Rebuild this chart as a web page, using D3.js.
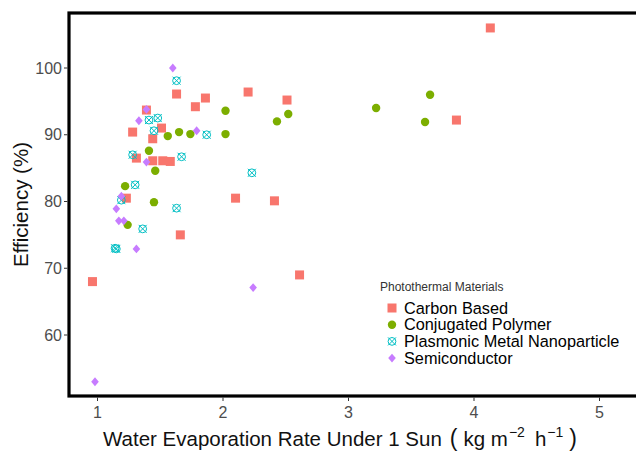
<!DOCTYPE html>
<html>
<head>
<meta charset="utf-8">
<script src="https://cdn.jsdelivr.net/npm/d3@7"></script>
<style>
    body { margin: 0; background: #fff; }
    svg { display: block; font-family: "Liberation Sans", Arial, sans-serif; }
    .tick-label { fill: #4d4d4d; font-size: 16px; }
    .axis-title { fill: #111; font-size: 20.5px; }
</style>
</head>
<body>
<svg id="chart" width="636" height="452"></svg>
<script>
// Series: [evaporation rate, efficiency]
const carbonBased = [
    [0.96, 68.0], [4.13, 106.0], [3.86, 92.2], [1.63, 96.1], [2.20, 96.4],
    [2.51, 95.2], [1.86, 95.5], [1.78, 94.2], [1.39, 93.7], [1.28, 90.4],
    [1.51, 91.0], [1.44, 89.4], [1.31, 86.5], [1.44, 86.1], [1.52, 86.1],
    [1.58, 86.0], [1.23, 80.5], [1.66, 75.0], [2.10, 80.5], [2.41, 80.1],
    [2.61, 69.0]
];
const conjugatedPolymer = [
    [2.02, 93.6], [2.02, 90.1], [2.43, 92.0], [2.52, 93.1], [1.56, 89.8],
    [1.65, 90.4], [1.74, 90.1], [1.41, 87.6], [1.46, 84.6], [1.22, 82.3],
    [1.45, 79.9], [1.24, 76.5], [3.65, 96.0], [3.22, 94.0], [3.61, 91.9]
];
const plasmonicMetal = [
    [1.63, 98.1], [1.41, 92.2], [1.48, 92.5], [1.45, 90.6], [1.87, 90.0],
    [1.28, 87.0], [1.67, 86.7], [2.23, 84.3], [1.30, 82.5], [1.19, 80.2],
    [1.63, 79.0], [1.36, 75.9], [1.15, 72.9], [1.14, 73.0]
];
const semiconductor = [
    [1.60, 100.0], [1.39, 93.8], [1.33, 92.1], [1.79, 90.6], [1.39, 85.9],
    [1.19, 80.8], [1.15, 78.9], [1.17, 77.1], [1.21, 77.1], [1.31, 72.9],
    [2.24, 67.1], [0.98, 53.0]
];

const seriesNames = ['Carbon Based', 'Conjugated Polymer', 'Plasmonic Metal Nanoparticle', 'Semiconductor'];
const seriesColours = ['#F8766D', '#7CAE00', '#00BFC4', '#C77CFF'];
const xTicks = [1, 2, 3, 4, 5];
const yTicks = [60, 70, 80, 90, 100];

const series = [carbonBased, conjugatedPolymer, plasmonicMetal, semiconductor];

const svg = d3.select('#chart');

// Panel edges (right edge runs off the picture)
const panel = { left: 69, top: 13, right: 670, bottom: 396 };

const x = d3.scaleLinear().domain([1, 5]).range([97.5, 599.5]);
const y = d3.scaleLinear().domain([60, 100]).range([335, 68]);

// Symbol for each series (ggplot shapes 15, 16, 13, 18)
function drawSymbol(g, i, colour) {
    if (i === 0) {
        g.append('rect').attr('x', -4.5).attr('y', -4.5).attr('width', 9).attr('height', 9)
            .attr('fill', colour);
    } else if (i === 1) {
        g.append('circle').attr('r', 4.2).attr('fill', colour);
    } else if (i === 2) {
        g.append('circle').attr('r', 3.9).attr('fill', 'none')
            .attr('stroke', colour).attr('stroke-width', 1);
        g.append('path').attr('d', 'M-4,-4L4,4M-4,4L4,-4')
            .attr('stroke', colour).attr('stroke-width', 1);
    } else {
        g.append('path').attr('d', 'M0,-4.4L3.8,0L0,4.4L-3.8,0Z').attr('fill', colour);
    }
}

// Points
series.forEach((data, i) => {
    svg.append('g').attr('class', 'series')
        .selectAll('g').data(data).enter()
        .append('g')
            .attr('transform', d => `translate(${x(d[0])},${y(d[1])})`)
            .each(function() { drawSymbol(d3.select(this), i, seriesColours[i]); });
});

// Panel border
svg.append('rect')
    .attr('x', panel.left).attr('y', panel.top)
    .attr('width', panel.right - panel.left).attr('height', panel.bottom - panel.top)
    .attr('fill', 'none').attr('stroke', '#000').attr('stroke-width', 3.2);

// y axis ticks and labels
const yAxisG = svg.append('g');
yAxisG.selectAll('line').data(yTicks).enter().append('line')
    .attr('x1', panel.left - 5).attr('x2', panel.left - 1.5)
    .attr('y1', d => y(d)).attr('y2', d => y(d))
    .attr('stroke', '#333').attr('stroke-width', 1);
yAxisG.selectAll('text').data(yTicks).enter().append('text')
    .attr('class', 'tick-label')
    .attr('x', panel.left - 7).attr('y', d => y(d)).attr('dy', '0.35em')
    .attr('text-anchor', 'end')
    .text(d => d);

// x axis ticks and labels
const xAxisG = svg.append('g');
xAxisG.selectAll('line').data(xTicks).enter().append('line')
    .attr('y1', panel.bottom + 1.5).attr('y2', panel.bottom + 5)
    .attr('x1', d => x(d)).attr('x2', d => x(d))
    .attr('stroke', '#333').attr('stroke-width', 1);
xAxisG.selectAll('text').data(xTicks).enter().append('text')
    .attr('class', 'tick-label')
    .attr('x', d => x(d)).attr('y', panel.bottom + 22)
    .attr('text-anchor', 'middle')
    .text(d => d);

// Axis titles
svg.append('text')
    .attr('class', 'axis-title')
    .attr('transform', `translate(28,${(panel.top + panel.bottom) / 2}) rotate(-90)`)
    .attr('text-anchor', 'middle')
    .text('Efficiency (%)');

const xTitle = svg.append('text')
    .attr('class', 'axis-title')
    .attr('x', 103).attr('y', 446)
    .attr('text-anchor', 'start');
xTitle.append('tspan').text('Water Evaporation Rate Under 1 Sun');
xTitle.append('tspan').attr('dx', 8).attr('font-size', '23px').text('(');
xTitle.append('tspan').attr('dx', 6).text('kg m');
xTitle.append('tspan').attr('font-size', '14px').attr('dx', 1).attr('dy', -9).text('\u22122');
xTitle.append('tspan').attr('dx', 10).attr('dy', 9).text('h');
xTitle.append('tspan').attr('font-size', '14px').attr('dx', 1).attr('dy', -9).text('\u22121');
xTitle.append('tspan').attr('font-size', '23px').attr('dx', 6).attr('dy', 9).text(')');

// Legend
const legend = svg.append('g').attr('transform', 'translate(380,291)');
legend.append('text')
    .attr('fill', '#333').attr('font-size', '12px')
    .text('Photothermal Materials');
const legendItems = legend.selectAll('g.item').data(seriesNames).enter()
    .append('g')
        .attr('class', 'item')
        .attr('transform', (d, i) => `translate(0,${17 + i * 16.7})`);
legendItems.each(function(d, i) {
    const sym = d3.select(this).append('g').attr('transform', 'translate(12,0)');
    drawSymbol(sym, i, seriesColours[i]);
});
legendItems.append('text')
    .attr('x', 24).attr('dy', '0.35em')
    .attr('fill', '#000').attr('font-size', '16.3px')
    .text(d => d);
</script>
</body>
</html>
